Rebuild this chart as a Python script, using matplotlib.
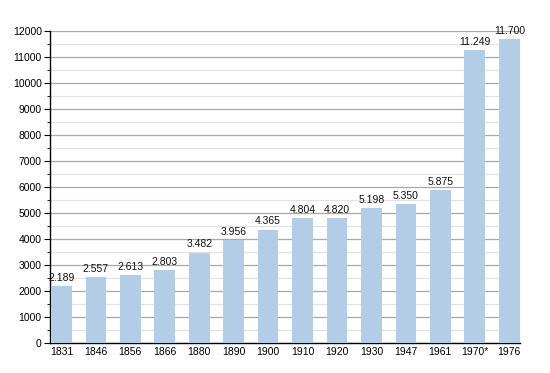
import matplotlib
matplotlib.use("Agg")
import matplotlib.pyplot as plt
from matplotlib.ticker import MultipleLocator

years = ["1831", "1846", "1856", "1866", "1880", "1890", "1900", "1910",
         "1920", "1930", "1947", "1961", "1970*", "1976"]
population = [2189, 2557, 2613, 2803, 3482, 3956, 4365, 4804,
              4820, 5198, 5350, 5875, 11249, 11700]
value_labels = ["2.189", "2.557", "2.613", "2.803", "3.482", "3.956", "4.365",
                "4.804", "4.820", "5.198", "5.350", "5.875", "11.249", "11.700"]

plt.rcParams["font.family"] = ["Liberation Sans", "DejaVu Sans"]

fig = plt.figure(figsize=(5.5, 3.73), dpi=100)
ax = fig.add_axes([0.091, 0.080, 0.855, 0.837])

x = list(range(len(years)))
ax.bar(x, population, width=0.6, color="#b3cde6", zorder=3)

for xi, v, lab in zip(x, population, value_labels):
    ax.text(xi, v + 120, lab, ha="center", va="bottom", fontsize=7.5,
            color="#111111", zorder=4)

ax.set_ylim(0, 12000)
ax.set_xlim(-0.33, len(years) - 0.68)
ax.yaxis.set_major_locator(MultipleLocator(1000))
ax.yaxis.set_minor_locator(MultipleLocator(500))
ax.grid(which="major", axis="y", color="#a8a8a8", linewidth=0.9, zorder=0)
ax.grid(which="minor", axis="y", color="#e2e2e2", linewidth=0.9, zorder=0)

ax.set_xticks(x)
ax.set_xticklabels(years)
ax.tick_params(axis="x", length=0, labelsize=7.5, pad=3)
ax.tick_params(axis="y", which="major", length=4, labelsize=7.5, pad=2)
ax.tick_params(axis="y", which="minor", length=2)

for side in ("top", "right"):
    ax.spines[side].set_visible(False)
ax.spines["left"].set_linewidth(1.0)
ax.spines["bottom"].set_linewidth(1.0)

fig.savefig("out.png", dpi=100)
